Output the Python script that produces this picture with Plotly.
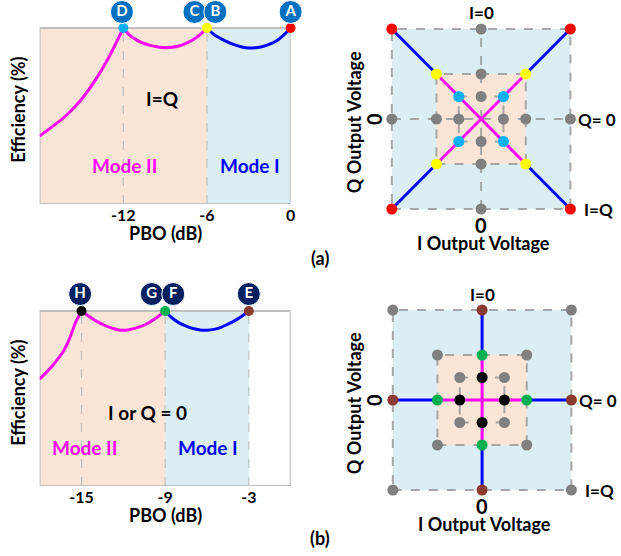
import plotly.graph_objects as go

W, H = 621, 556
FONT = "Lato"

# ---- Efficiency vs. PBO data, (a) I=Q trajectory ----
A_RISE_PBO = [-18, -17, -16, -15, -14, -13, -12.5, -12]
A_RISE_EFF = [38.6, 44.5, 51, 59.5, 70.5, 84, 91.8, 100]
A_MODE2_PBO = [-12, -11.5, -11, -10.5, -10, -9.5, -9, -8.5, -8, -7.5, -7, -6.5, -6]
A_MODE2_EFF = [100, 95.5, 93, 91.2, 90, 89.2, 88.8, 89, 89.8, 91.3, 93.3, 96.2, 100]
A_MODE1_PBO = [-6, -5.5, -5, -4.5, -4, -3.5, -3, -2.5, -2, -1.5, -1, -0.5, 0]
A_MODE1_EFF = [100, 96.3, 94, 92, 90.4, 89.2, 88.6, 88.8, 89.5, 90.8, 92.8, 96, 100]
A_TICKS = [-12, -6, 0]
A_PEAKS_PBO = [-12, -6, 0]
A_PEAK_COLORS = ["#00B0F0", "#FFFF00", "#FF0000"]
A_BADGES = ["D", "C", "B", "A"]
A_BADGE_PBO = [-12.1, -6.9, -5.4, 0]

# ---- Efficiency vs. PBO data, (b) I or Q = 0 trajectory ----
B_RISE_PBO = [-18, -16.95, -16.25, -15.8, -15.45, -15]
B_RISE_EFF = [61, 70, 77.7, 85.3, 93, 100]
B_MODE2_PBO = [-15, -14.6, -14, -13.4, -12.8, -12.2, -11.6, -11, -10.4, -9.8, -9.4, -9]
B_MODE2_EFF = [100, 97.7, 94.5, 92, 90.2, 89, 89.3, 90.5, 92.3, 95.2, 97.5, 100]
B_MODE1_PBO = [-9, -8.5, -8, -7.5, -7, -6.5, -6, -5.5, -5, -4.5, -4, -3.5, -3]
B_MODE1_EFF = [100, 96, 93.2, 91.4, 90, 89.2, 89, 89.5, 90.7, 92.5, 94.5, 97, 100]
B_TICKS = [-15, -9, -3]
B_PEAKS_PBO = [-15, -9, -3]
B_PEAK_COLORS = ["#000000", "#00B050", "#8B3A2F"]
B_BADGES = ["H", "G", "F", "E"]
B_BADGE_PBO = [-15.1, -9.96, -8.42, -3.0]

# ---- Constellation levels ----
LEVELS = [1.0, 0.5, 0.25]
A_LEVEL_COLORS = ["#FF0000", "#FFFF00", "#00B0F0"]
B_LEVEL_COLORS = ["#8B3A2F", "#00B050", "#000000"]

PEACH = "#FBE5D6"
LBLUE = "#DAEEF3"
MAGENTA = "#FF00FF"
BLUE = "#0000FF"
GRAY = "#808080"
DASH = "#A6A6A6"
FRAME = "#BFBFBF"


def px(x):
    return x / W


def py(y):
    return 1 - y / H


fig = go.Figure()
shapes = []
annotations = []


def note(x, y, text, size, color="black", angle=0, xref="paper", yref="paper"):
    if xref == "paper":
        x = px(x)
    if yref == "paper":
        y = py(y)
    annotations.append(dict(xref=xref, yref=yref, x=x, y=y, text=f"<b>{text}</b>",
                            showarrow=False, textangle=angle, xanchor="center",
                            yanchor="middle", font=dict(size=size, color=color, family=FONT)))


def eff_panel(ax, pbo_sets, eff_sets, peaks, peak_colors, badges, badge_pbo, badge_y,
              badge_color, zones, vlines, title, mode_pos):
    xr, yr = ("x" + ax, "y" + ax)
    for (x0, x1, c) in zones:
        shapes.append(dict(type="rect", xref=xr, yref=yr, x0=x0, x1=x1, y0=0, y1=100,
                           fillcolor=c, line_width=0, layer="below"))
    for v in vlines:
        shapes.append(dict(type="line", xref=xr, yref=yr, x0=v, x1=v, y0=0, y1=100,
                           line=dict(color=FRAME, width=1.2, dash="dash"), layer="below"))
    # plot frame
    shapes.append(dict(type="rect", xref=xr, yref=yr, x0=-18, x1=0, y0=0, y1=100,
                       line=dict(color=FRAME, width=2), layer="below"))
    cols = [MAGENTA, MAGENTA, BLUE]
    for (p, e), c in zip(zip(pbo_sets, eff_sets), cols):
        fig.add_trace(go.Scatter(x=p, y=e, mode="lines", xaxis=xr, yaxis=yr,
                                 line=dict(color=c, width=3, shape="spline", smoothing=1.0),
                                 showlegend=False, hoverinfo="skip"))
    fig.add_trace(go.Scatter(x=peaks, y=[100] * len(peaks), mode="markers", xaxis=xr, yaxis=yr,
                             marker=dict(color=peak_colors, size=10), showlegend=False,
                             cliponaxis=False))
    fig.add_trace(go.Scatter(x=badge_pbo, y=[badge_y] * len(badges), mode="markers+text",
                             xaxis=xr, yaxis=yr, text=[f"<b>{b}</b>" for b in badges],
                             textposition="middle center",
                             textfont=dict(color="white", size=15, family=FONT),
                             marker=dict(color=badge_color, size=23,
                                         line=dict(color="white", width=1)),
                             showlegend=False, cliponaxis=False))
    note(title[1], title[2], title[0], 19, xref=xr, yref=yr)
    note(mode_pos[0], mode_pos[2], "Mode II", 19, MAGENTA, xref=xr, yref=yr)
    note(mode_pos[1], mode_pos[2], "Mode I", 19, BLUE, xref=xr, yref=yr)


eff_panel("", [A_RISE_PBO, A_MODE2_PBO, A_MODE1_PBO], [A_RISE_EFF, A_MODE2_EFF, A_MODE1_EFF],
          A_PEAKS_PBO, A_PEAK_COLORS, A_BADGES, A_BADGE_PBO, 109.1, "#0070C0",
          [(-18, -6, PEACH), (-6, 0, LBLUE)], [-12, -6], ("I=Q", -9.2, 60),
          (-11.9, -2.9, 22))
eff_panel("3", [B_RISE_PBO, B_MODE2_PBO, B_MODE1_PBO], [B_RISE_EFF, B_MODE2_EFF, B_MODE1_EFF],
          B_PEAKS_PBO, B_PEAK_COLORS, B_BADGES, B_BADGE_PBO, 109.7, "#002060",
          [(-18, -9, PEACH), (-9, -3, LBLUE)], [-15, -9, -3], ("I or Q = 0", -10.3, 42),
          (-14.8, -5.9, 22))


def const_panel(ax, mode_colors, diag, cx0, cy0):
    xr, yr = ("x" + ax, "y" + ax)
    shapes.append(dict(type="rect", xref=xr, yref=yr, x0=-1, x1=1, y0=-1, y1=1,
                       fillcolor=LBLUE, line_width=0, layer="below"))
    shapes.append(dict(type="rect", xref=xr, yref=yr, x0=-0.5, x1=0.5, y0=-0.5, y1=0.5,
                       fillcolor=PEACH, line_width=0, layer="below"))
    for L in LEVELS:
        shapes.append(dict(type="rect", xref=xr, yref=yr, x0=-L, x1=L, y0=-L, y1=L,
                           line=dict(color=DASH, width=2, dash="dash"), layer="below"))
    if diag:
        shapes.append(dict(type="line", xref=xr, yref=yr, x0=-1, x1=1, y0=0, y1=0,
                           line=dict(color=DASH, width=2, dash="dash"), layer="below"))
        shapes.append(dict(type="line", xref=xr, yref=yr, x0=0, x1=0, y0=-1, y1=1,
                           line=dict(color=DASH, width=2, dash="dash"), layer="below"))
        dirs = [(1, 1), (-1, 1), (1, -1), (-1, -1)]
        other = [(1, 0), (-1, 0), (0, 1), (0, -1)]
    else:
        dirs = [(1, 0), (-1, 0), (0, 1), (0, -1)]
        other = [(1, 1), (-1, 1), (1, -1), (-1, -1)]
    for (dx, dy) in dirs:
        fig.add_trace(go.Scatter(x=[dx * LEVELS[0], dx * LEVELS[1]], y=[dy * LEVELS[0], dy * LEVELS[1]],
                                 mode="lines", xaxis=xr, yaxis=yr, line=dict(color=BLUE, width=3),
                                 showlegend=False, hoverinfo="skip"))
        fig.add_trace(go.Scatter(x=[dx * LEVELS[1], 0], y=[dy * LEVELS[1], 0],
                                 mode="lines", xaxis=xr, yaxis=yr, line=dict(color=MAGENTA, width=3),
                                 showlegend=False, hoverinfo="skip"))
    gx, gy = [], []
    for L in LEVELS:
        for (dx, dy) in other:
            gx.append(dx * L)
            gy.append(dy * L)
    fig.add_trace(go.Scatter(x=gx, y=gy, mode="markers", xaxis=xr, yaxis=yr,
                             marker=dict(color=GRAY, size=11), showlegend=False, cliponaxis=False))
    cx, cy, cc = [], [], []
    for L, c in zip(LEVELS, mode_colors):
        for (dx, dy) in dirs:
            cx.append(dx * L)
            cy.append(dy * L)
            cc.append(c)
    fig.add_trace(go.Scatter(x=cx, y=cy, mode="markers", xaxis=xr, yaxis=yr,
                             marker=dict(color=cc, size=11), showlegend=False, cliponaxis=False))

    note(cx0, cy0 - 106, "I=0", 17)
    note(cx0 + 117, cy0, "Q= 0", 17)
    note(cx0 + 118, cy0 + 90, "I=Q", 17)
    note(cx0, cy0 + 106, "0", 20)
    note(cx0 + 2, cy0 + 124, "I Output Voltage", 18)
    note(357, cy0 + 3, "Q Output Voltage", 18, angle=-90)
    note(377, cy0, "0", 20, angle=-90)


const_panel("2", A_LEVEL_COLORS, True, 485, 119)
const_panel("4", B_LEVEL_COLORS, False, 486, 400)

# axis titles of the efficiency panels and panel tags
for ycen, ybot in [(110, 233), (393, 515)]:
    note(18, ycen, "Efficiency (%)", 18, angle=-90)
    note(167, ybot, "PBO (dB)", 18)
note(323, 258, "(a)", 18)
note(323, 538, "(b)", 18)

eff_x = dict(range=[-18, 0], showgrid=False, zeroline=False, showline=False, ticks="",
             tickfont=dict(size=16, color="black", family=FONT))
eff_y = dict(showgrid=False, zeroline=False, showline=False, showticklabels=False, ticks="")
const_ax = dict(range=[-1.15, 1.15], showgrid=False, zeroline=False, showline=False,
                showticklabels=False, ticks="")

fig.update_layout(
    width=W, height=H, margin=dict(l=0, r=0, t=0, b=0),
    paper_bgcolor="white", plot_bgcolor="rgba(0,0,0,0)",
    showlegend=False,
    xaxis=dict(eff_x, domain=[px(40), px(293)], anchor="y", tickvals=A_TICKS,
               ticktext=[f"<b>{t}</b>" for t in A_TICKS]),
    yaxis=dict(eff_y, range=[0, 204 / 1.76], domain=[py(204), 1], anchor="x"),
    xaxis3=dict(eff_x, domain=[px(40), px(293)], anchor="y3", tickvals=B_TICKS,
                ticktext=[f"<b>{t}</b>" for t in B_TICKS]),
    yaxis3=dict(eff_y, range=[0, (486 - 280) / 1.75], domain=[py(486), py(280)], anchor="x3"),
    xaxis2=dict(const_ax, domain=[px(485 - 103.5), px(485 + 103.5)], anchor="y2"),
    yaxis2=dict(const_ax, domain=[py(119 + 103.5), py(119 - 103.5)], anchor="x2"),
    xaxis4=dict(const_ax, domain=[px(486 - 103.5), px(486 + 103.5)], anchor="y4"),
    yaxis4=dict(const_ax, domain=[py(400 + 103.5), py(400 - 103.5)], anchor="x4"),
    shapes=shapes,
    annotations=annotations,
)

fig.write_html("out.html")
